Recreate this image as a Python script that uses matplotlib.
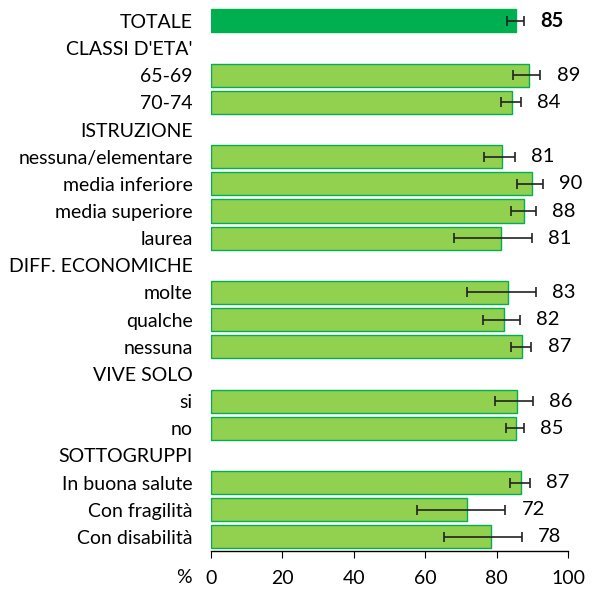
import numpy as np
import matplotlib
matplotlib.use('Agg')
import matplotlib.pyplot as plt

plt.rcParams['font.family'] = ['Lato', 'DejaVu Sans']

# Row labels (headers have no value)
labels = ['TOTALE', "CLASSI D'ETA'", '65-69', '70-74', 'ISTRUZIONE',
          'nessuna/elementare', 'media inferiore', 'media superiore', 'laurea',
          'DIFF. ECONOMICHE', 'molte', 'qualche', 'nessuna', 'VIVE SOLO',
          'si', 'no', 'SOTTOGRUPPI', 'In buona salute', 'Con fragilità',
          'Con disabilità']
values = [85.5, None, 89.0, 84.3, None,
          81.4, 89.9, 87.7, 81.1, None,
          83.2, 82.0, 87.1, None,
          85.7, 85.5, None, 86.8, 71.6, 78.3]
ci_low = [82.8, None, 84.4, 81.1, None,
          76.5, 85.7, 83.9, 68.0, None,
          71.6, 76.2, 84.1, None,
          79.4, 82.6, None, 83.7, 57.7, 65.3]
ci_high = [87.7, None, 92.2, 86.8, None,
           85.1, 93.0, 90.9, 89.9, None,
           90.9, 86.5, 89.7, None,
           90.0, 87.6, None, 89.3, 82.4, 87.0]
value_text = ['85', '', '89', '84', '', '81', '90', '88', '81', '',
              '83', '82', '87', '', '86', '85', '', '87', '72', '78']

fig = plt.figure(figsize=(6.01, 5.90), dpi=100)
ax = fig.add_axes([0.351, 0.0661, 0.5946, 0.9214])

for i, v in enumerate(values):
    if v is None:
        continue
    if i == 0:
        ax.barh(i, v, height=0.85, color='#00B050', edgecolor='#00B050', linewidth=1)
    else:
        ax.barh(i, v, height=0.85, color='#92D050', edgecolor='#00B050', linewidth=1)
    ax.errorbar(v, i, xerr=[[v - ci_low[i]], [ci_high[i] - v]], fmt='none',
                ecolor='#222222', elinewidth=1.2, capsize=3.5, capthick=1.2)
    ax.annotate(value_text[i], (ci_high[i], i), xytext=(20, 0),
                textcoords='offset points', ha='center', va='center',
                fontsize=14.5, fontweight='bold' if i == 0 else 'normal',
                color='black')

ax.set_xlim(0, 100)
ax.set_ylim(19.52, -0.5)
ax.set_xticks(range(0, 101, 20))
ax.set_yticks(range(len(labels)))
ax.set_yticklabels(labels, fontsize=14)
ax.tick_params(axis='y', length=0, pad=13)
ax.tick_params(axis='x', direction='out', length=5, labelsize=14, pad=9)
for s in ['top', 'right', 'left']:
    ax.spines[s].set_visible(False)
ax.spines['bottom'].set_color('black')
ax.spines['bottom'].set_linewidth(1)

ax.text(-0.055, -0.048, '%', transform=ax.transAxes, ha='right', va='center',
        fontsize=14)

fig.savefig('out.png', dpi=100)
